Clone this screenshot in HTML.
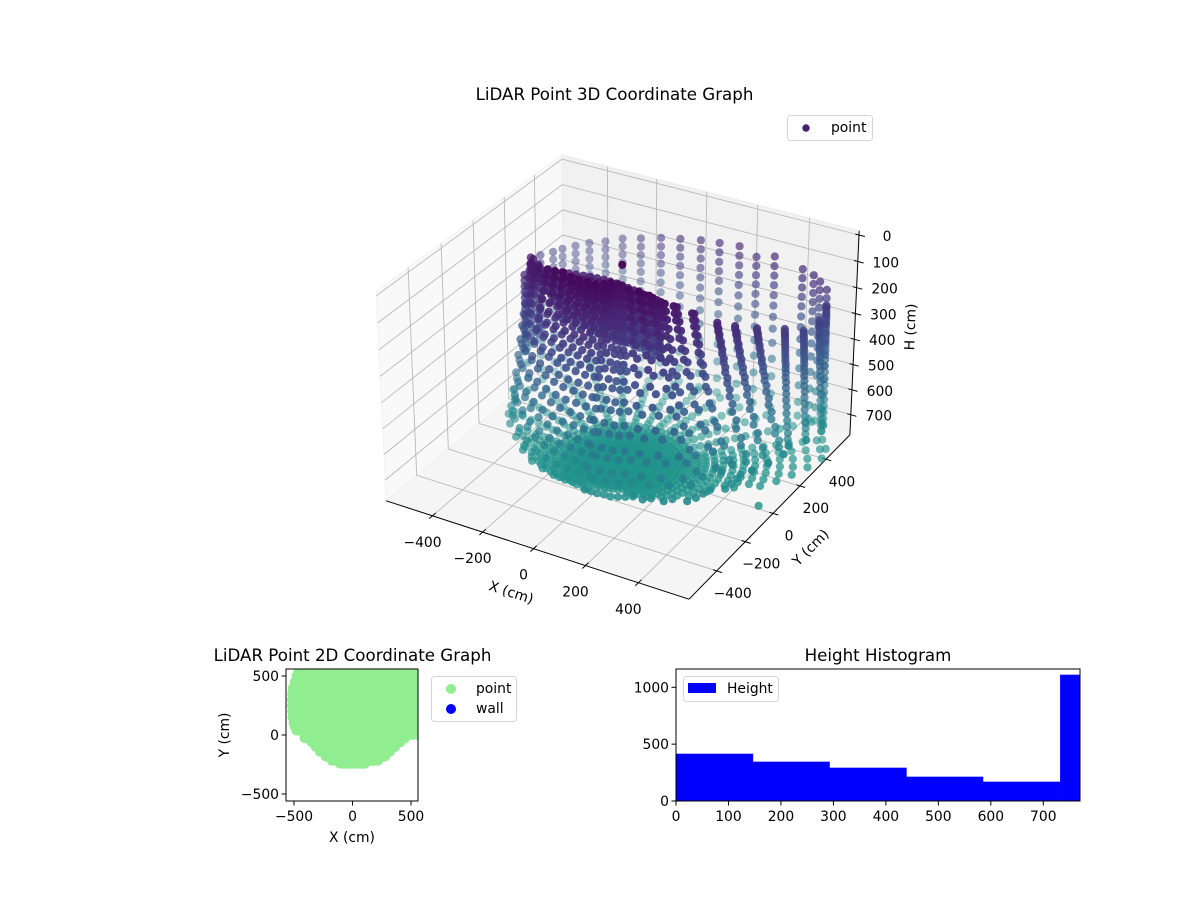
<!DOCTYPE html>
<html lang="en">
<head>
<meta charset="utf-8">
<title>LiDAR Point Graphs</title>
<style>
html,body{margin:0;padding:0;background:#fff}
svg{display:block}
text{font-family:"DejaVu Sans","Liberation Sans",sans-serif;fill:#000}
</style>
</head>
<body>
<svg id="figure" xmlns="http://www.w3.org/2000/svg" width="1200" height="900" viewBox="0 0 1200 900">
<defs><clipPath id="clip2d"><rect x="286" y="669" width="132" height="132"/></clipPath></defs>
<rect width="1200" height="900" fill="#fff"/>
<g id="axes3d"></g>
<text x="614.5" y="100" font-size="16.67" text-anchor="middle">LiDAR Point 3D Coordinate Graph</text>
<text transform="translate(511,593) rotate(18)" font-size="13.89" text-anchor="middle" dominant-baseline="middle">X (cm)</text>
<text transform="translate(811,548) rotate(-45)" font-size="13.89" text-anchor="middle" dominant-baseline="middle">Y (cm)</text>
<text transform="translate(911,327) rotate(-88)" font-size="13.89" text-anchor="middle" dominant-baseline="middle">H (cm)</text>
<g>
<rect x="787.5" y="115.5" width="85" height="25" rx="3" fill="#fff" fill-opacity="0.8" stroke="#d5d5d5"/>
<circle cx="806" cy="128" r="3.7" fill="#481f70"/>
<text x="831" y="132" font-size="13.89">point</text>
</g>

<g id="axes2d"></g>
<text x="352.5" y="661" font-size="16.67" text-anchor="middle">LiDAR Point 2D Coordinate Graph</text>
<text x="352" y="842" font-size="13.89" text-anchor="middle">X (cm)</text>
<text transform="translate(225,735) rotate(-90)" font-size="13.89" text-anchor="middle" dominant-baseline="middle">Y (cm)</text>
<g>
<rect x="431.5" y="676.5" width="85" height="45" rx="3" fill="#fff" stroke="#d5d5d5"/>
<circle cx="451" cy="689" r="5" fill="#90ee90"/>
<text x="476" y="693" font-size="13.89">point</text>
<circle cx="451" cy="709" r="5" fill="#0000ff"/>
<text x="476" y="713" font-size="13.89">wall</text>
</g>

<g id="axesHist"></g>
<text x="878" y="661" font-size="16.67" text-anchor="middle">Height Histogram</text>
<g>
<rect x="683.5" y="676.5" width="95" height="25" rx="3" fill="#fff" fill-opacity="0.8" stroke="#d5d5d5"/>
<rect x="688" y="683" width="28" height="10" fill="#0000ff"/>
<text x="727" y="693" font-size="13.89">Height</text>
</g>
</svg>
<script>
// ---- 3D axis ticks and limits ----
const xTicks3d = [-400, -200, 0, 200, 400];
const yTicks3d = [-400, -200, 0, 200, 400];
const hTicks3d = [0, 100, 200, 300, 400, 500, 600, 700];
const xLimit3d = [-588, 588];
const yLimit3d = [-588, 588];
const hLimit3d = [-16, 782];

// ---- Isolated points ----
const extraX = [0, 535];
const extraY = [0, -5];
const extraH = [0, 766];

// ---- Wall columns: fixed x,y with heights down the column ----
const wallX = [-530,-530,-525,-515,-500,-470,-430,-390,-325,-250,-168,-90,-8,66,145,212,283,392,435,460,487,-390,-360,-417];
const wallY = [150,240,330,400,440,480,510,555,565,565,565,565,565,565,565,565,565,565,565,565,565,50,50,50];
const wallHeight = [
[700,730,750],
[521,577,638,700,750],
[249,280,312,344,377,412,449,490,537,592,650,708,750],
[265,295,326,357,389,423,459,498,543,595,652,708,750],
[267,298,329,360,392,426,462,501,546,598,654,709,750],
[265,296,327,358,391,425,461,500,545,597,654,708,750],
[257,288,320,351,384,419,456,496,542,595,652,708,750],
[261,292,323,354,387,421,458,498,543,596,652,708,750],
[237,268,300,332,365,400,437,478,525,580,640,700,750],
[217,250,283,316,350,387,426,468,517,574,636,698,750],
[194,228,262,296,332,370,410,454,505,565,630,695,750],
[178,213,248,284,321,360,402,447,500,561,628,694,750],
[162,198,234,270,308,348,391,438,492,556,625,693,750],
[154,190,227,264,302,343,386,434,489,554,624,692,750],
[146,183,220,258,297,338,382,430,486,552,622,692,750],
[170,205,241,277,314,354,396,443,497,559,627,694,750],
[150,187,224,261,300,341,385,432,488,552,622,692,750],
[170,205,241,277,314,354,396,443,497,559,627,694,750],
[182,216,251,286,322,361,402,448,500,561,628,694,750],
[200,233,267,301,336,374,414,458,509,567,632,696,750],
[225,257,290,323,357,393,431,472,521,577,638,700,750],
[97,118,140,162,184,206,228,250,272,294,316,340,365,392,420],
[116,138,160,182,204,226,248,270,292,314,336,360,385],
[170,192,214,236,258,280,302,324,346,368,392,416,440,466]
];

// ---- Near-surface scan lines: azimuth (deg), radius and height per point ----
const scanAzimuth = [176,-178,-168,-158,-148,-138,-128,-118,-108,-98,-88,-78,-68,-58,-48,-38,-28,-18,-8,2,10,18,25,30,35,40,45];
const scanRadius = [
[365,369,373,378,383,389,396,403,411,421,432,445,456,467],
[323,327,331,337,342,348,354,361,370,380,392,404,416,427],
[264,269,273,279,285,292,299,307,316,327,340,354,366,379],
[227,232,236,242,248,255,262,270,280,291,304,318,331,344],
[197,202,206,212,218,225,232,240,249,261,274,287,300,313],
[174,178,183,189,194,201,208,215,224,236,248,261,274,286],
[154,158,163,168,174,180,187,195,204,215,227,240,252,264],
[136,140,145,150,155,162,168,176,185,195,207,220,232,244],
[119,123,128,133,139,145,152,159,168,179,191,204,216,228],
[99,104,108,114,120,127,134,142,151,163,176,189,202,215],
[80,88,95,105,114,126,137,150,166,185,205,228,249,270],
[44,53,62,74,86,99,113,129,148,171,196,224,250,275],
[25,35,46,59,72,87,103,121,142,168,197,228,256,285],
[20,31,42,56,70,86,103,122,144,171,202,235,265,295],
[100,109,118,130,141,155,169,185,204,227,252,279,305,330],
[145,154,163,174,186,199,213,228,246,269,294,321,345,370],
[167,177,186,199,211,225,240,257,276,301,327,357,383,410],
[192,197,203,210,218,227,237,249,264,283,307,337,370,405],
[215,220,226,233,241,250,260,272,287,307,333,365,400,440],
[262,266,270,275,281,288,296,305,317,332,352,378,408,440],
[336,340,344,350,355,361,367,375,384,395,410,428,448,470],
[385,389,393,398,403,409,415,422,431,442,456,472,490,510],
[454,457,460,464,468,473,478,484,491,500,511,525,540,556],
[548,549,550,551,552,553,555,556,558,560,563,566,570,574],
[618,619,620,621,622,623,624,625,627,629,631,634,637,640],
[683,684,685,686,687,688,690,691,693,695,698,700,703,705],
[725,725,726,726,726,727,727,728,728,729,729,730,730,730]
];
const scanHeight = [
[85,110,135,166,198,235,273,317,367,429,498,573,642,711],
[85,110,135,166,197,234,272,315,365,427,496,570,639,707],
[59,85,111,144,176,215,255,300,352,418,489,568,639,711],
[40,67,95,129,163,204,245,293,347,416,491,573,648,723],
[24,52,81,116,152,194,237,286,343,414,492,577,655,733],
[25,53,82,117,153,195,238,288,345,416,494,579,657,735],
[25,54,82,118,154,196,239,289,346,418,496,582,660,739],
[25,54,82,118,154,197,240,290,347,419,498,583,662,741],
[30,59,87,123,159,202,245,295,353,424,503,589,668,747],
[30,59,88,124,161,204,248,299,357,429,509,596,676,756],
[30,58,85,120,155,196,238,286,342,411,487,571,647,723],
[50,77,104,137,171,212,252,299,353,420,494,575,649,723],
[65,91,118,151,183,223,262,308,361,427,499,578,651,723],
[70,96,122,154,186,225,264,309,361,425,496,574,645,716],
[41,68,94,128,161,201,241,288,342,408,482,562,636,709],
[28,55,82,116,150,190,231,278,332,399,474,555,629,703],
[39,65,92,125,158,198,237,284,336,403,475,555,627,700],
[63,88,114,146,178,216,254,299,350,413,483,560,630,700],
[83,108,132,163,194,231,268,311,361,422,490,564,632,700],
[115,138,162,191,220,255,291,331,378,437,501,571,636,700],
[154,176,197,224,252,284,317,355,398,452,512,577,636,696],
[186,207,227,253,279,309,340,376,417,469,525,587,643,700],
[217,236,256,280,304,333,362,396,434,483,536,594,647,700],
[241,259,277,300,323,350,378,409,446,491,541,596,646,696],
[277,294,311,333,354,380,406,436,471,514,561,612,660,707],
[273,291,308,330,352,378,404,435,470,514,562,615,663,711],
[253,272,291,315,338,367,395,428,466,514,566,623,675,727]
];
// Second sweep of each scan (staggered beam), same radii as the first sweep
const sweepAzimuth = [179,-173,-163,-153,-143,-133,-123,-113,-103,-93,-83,-73,-63,-53,-43,-33,-23,-13,-3,6,10,18,25,30,35,40,45];
const sweepHeight = [
[97,122,150,182,216,254,295,342,398,463,535,607,676,711],
[97,122,150,181,215,253,293,340,396,461,533,604,673,707],
[72,98,127,160,195,235,277,326,385,453,528,603,675,711],
[53,81,112,146,183,224,269,320,381,453,532,610,685,723],
[38,66,98,134,173,215,261,314,378,453,534,616,694,733],
[39,67,99,135,174,216,263,316,380,455,536,618,696,735],
[39,68,100,136,175,217,264,317,382,457,539,621,699,739],
[39,68,100,136,175,218,265,318,383,458,540,622,701,741],
[44,73,105,141,180,223,270,324,388,463,546,628,707,747],
[44,73,106,142,182,226,273,328,393,469,552,636,716,756],
[44,71,102,137,175,217,262,314,376,449,529,609,685,723],
[63,90,120,154,191,232,275,326,386,457,534,612,686,723],
[78,104,134,167,203,242,285,334,394,463,538,614,687,723],
[83,109,138,170,205,244,286,335,393,460,535,609,680,716],
[54,81,111,144,181,221,264,315,375,445,522,599,672,709],
[41,68,99,133,170,210,254,305,365,436,514,592,666,703],
[52,78,108,141,178,217,260,310,369,439,515,591,663,700],
[75,101,130,162,197,235,276,324,381,448,521,595,665,700],
[95,120,147,178,212,249,289,336,391,456,527,598,666,700],
[126,150,176,205,237,273,311,354,407,469,536,603,668,700],
[165,186,210,238,268,300,336,376,425,482,544,606,666,696],
[196,217,240,266,294,324,358,396,443,497,556,615,671,700],
[226,246,268,292,318,347,379,415,458,509,565,620,673,700],
[250,268,288,311,336,364,393,427,468,516,568,621,671,696],
[285,302,322,343,367,393,421,453,492,537,586,636,683,707],
[282,299,319,341,365,391,419,452,492,538,588,639,687,711],
[262,281,303,326,352,381,411,447,490,540,594,649,701,727]
];

// ---- Dense dome under the lidar: columns by x,y and rows by height ----
const domeColumnX = [-320,-295,-270,-245,-220,-195,-170,-145,-120,-95,-70,-45,-20,5,30,55,80,105,130,145];
const domeColumnY = [0,5,10,15,20,25,30,35,38,40,40,38,35,30,25,20,15,10,5,0];
const domeRowHeight = [99,115,131,147,163,179,195,211,227,243,259,275,291,307];
const domeRowFirstColumn = [0,0,0,0,1,1,2,2,3,3,3,3,6,7];

// ---- Floor fan: rays by azimuth, rings by radius ----
const floorAzimuth = [-180,-175,-170,-165,-160,-155,-150,-145,-140,-135,-130,-125,-120,-115,-110,-105,-100,-95,-90,-85,-80,-75,-70,-65,-60,-55,-50,-45,-40,-35,-30,-25,-20,-15,-10,-5,0,5,10,15,20,25,30,35,40,45,50,55,60,65,70,75,80,85,90,95,100,105,110,115,120,125,130,135,140,145,150,155,160,165,170,175];
const floorRayReach = [400,385,370,350,330,310,290,275,265,255,250,240,235,220,210,200,190,180,175,175,175,175,180,185,190,205,220,230,240,250,265,285,310,325,340,360,375,440,510,560,600,650,690,710,710,250,710,250,635,250,565,250,565,250,565,250,565,250,565,250,635,250,710,250,635,250,565,250,540,250,500,250];
const floorRingRadius = [12,25,40,55,70,85,100,118,136,155,175,195,215,240,265,290,320,350,385,420,460,500,545,590,640,690,710];
const floorRingHeight = [764,764,764,763,763,763,762,762,762,761,761,760,760,759,758,757,756,755,754,753,752,751,750,749,748,747,746];

// ---- 2D footprint rows: y with left and right edges ----
const footprintY = [565,550,500,450,400,350,300,250,200,150,100,70,40,5,-25,-60,-100,-140,-180,-215,-240];
const footprintLeft = [-495,-502,-519,-533,-550,-556,-558,-558,-556,-553,-544,-532,-520,-440,-450,-390,-355,-320,-270,-218,-150];
const footprintRight = [600,600,600,600,600,600,600,600,600,600,600,600,600,600,490,450,405,362,320,260,150];
const xTicks2d = [-500, 0, 500];
const yTicks2d = [-500, 0, 500];

// ---- Histogram ----
const histEdges = [0,146.5,292.5,439,585,732,770];
const histCounts = [416,346,293,214,170,1111];
const histXTicks = [0,100,200,300,400,500,600,700];
const histYTicks = [0,500,1000];

// ---- Helpers ----
const NS = 'http://www.w3.org/2000/svg';
function mk(parent, tag, attrs, text) {
  const e = document.createElementNS(NS, tag);
  for (const k in attrs) e.setAttribute(k, attrs[k]);
  if (text !== undefined) e.textContent = text;
  parent.appendChild(e);
  return e;
}
function label(v) { return String(v).replace('-', '\u2212'); }
function named(e, name) {
  
  
  return e;
}

// ---- 3D projection (axis function) ----
const VIEW = {scaleXY: 0.595 / 588, scaleH: 0.41 / 399, hCenter: 383, cx: 622.3, cy: 366, sx: 2910, sy: 2910, dist: 10};
function project(x, y, h) {
  const nx = x * VIEW.scaleXY, ny = y * VIEW.scaleXY, nz = (VIEW.hCenter - h) * VIEW.scaleH;
  const U = 0.866 * nx + 0.5 * ny;
  const V = -0.25 * nx + 0.433 * ny + 0.866 * nz;
  const W = 0.433 * nx - 0.75 * ny + 0.5 * nz;
  const den = VIEW.dist - W;
  return {px: VIEW.cx + VIEW.sx * U / den, py: VIEW.cy - VIEW.sy * V / den, depth: W};
}
const viridisStops = [[68,1,84],[72,36,117],[65,68,135],[53,95,141],[42,120,142],[33,145,140],[34,168,132],[68,191,112],[122,209,81],[189,223,38],[253,231,37]];
function viridis(t) {
  t = Math.max(0, Math.min(0.9999, t)) * 10;
  const i = Math.floor(t), f = t - i, a = viridisStops[i], b = viridisStops[i + 1];
  return [0,1,2].map(k => Math.round(a[k] + (b[k] - a[k]) * f));
}
function colourForHeight(h) { return viridis(h / 1480); }

// ---- Draw 3D axes ----
(function draw3d() {
  const g = document.getElementById('axes3d');
  const [x0, x1] = xLimit3d, [y0, y1] = yLimit3d, [hTop, hBot] = hLimit3d;
  const pts = list => list.map(p => { const q = project(p[0], p[1], p[2]); return q.px.toFixed(1) + ',' + q.py.toFixed(1); }).join(' ');
  const leftWall = mk(g, 'polygon', {points: pts([[x0,y0,hBot],[x0,y1,hBot],[x0,y1,hTop],[x0,y0,hTop]]), fill: '#f9f9f9', stroke: '#f1f1f1', 'stroke-width': 1});
  named(leftWall, 'left-wall-pane');
  const backWall = mk(g, 'polygon', {points: pts([[x0,y1,hBot],[x1,y1,hBot],[x1,y1,hTop],[x0,y1,hTop]]), fill: '#f1f1f1', stroke: '#ececec', 'stroke-width': 1});
  named(backWall, 'back-wall-pane');
  const floorPane = mk(g, 'polygon', {points: pts([[x0,y0,hBot],[x1,y0,hBot],[x1,y1,hBot],[x0,y1,hBot]]), fill: '#f5f5f5', stroke: '#f0f0f0', 'stroke-width': 1});
  named(floorPane, 'floor-pane');

  const gridStyle = {fill: 'none', stroke: '#b9b9b9', 'stroke-width': 0.9};
  xTicks3d.forEach(v => {
    const line = mk(g, 'polyline', Object.assign({points: pts([[v,y0,hBot],[v,y1,hBot],[v,y1,hTop]])}, gridStyle));
    named(line, 'x-gridline');
  });
  yTicks3d.forEach(v => {
    const line = mk(g, 'polyline', Object.assign({points: pts([[x1,v,hBot],[x0,v,hBot],[x0,v,hTop]])}, gridStyle));
    named(line, 'y-gridline');
  });
  hTicks3d.forEach(v => {
    const line = mk(g, 'polyline', Object.assign({points: pts([[x1,y1,v],[x0,y1,v],[x0,y0,v]])}, gridStyle));
    named(line, 'h-gridline');
  });

  const axisStyle = {fill: 'none', stroke: '#000', 'stroke-width': 1};
  const xAxisLine = mk(g, 'polyline', Object.assign({points: pts([[x0,y0,hBot],[x1,y0,hBot]])}, axisStyle));
  named(xAxisLine, 'x-axis-line');
  const yAxisLine = mk(g, 'polyline', Object.assign({points: pts([[x1,y0,hBot],[x1,y1,hBot]])}, axisStyle));
  named(yAxisLine, 'y-axis-line');
  const hAxisLine = mk(g, 'polyline', Object.assign({points: pts([[x1,y1,hBot],[x1,y1,hTop]])}, axisStyle));
  named(hAxisLine, 'h-axis-line');

  const tickLabel = (px, py, v, name) => {
    const t = mk(g, 'text', {x: px.toFixed(1), y: py.toFixed(1), 'font-size': 13.89, 'text-anchor': 'middle', 'dominant-baseline': 'middle'}, label(v));
    named(t, name);
  };
  xTicks3d.forEach(v => {
    const tick = mk(g, 'polyline', Object.assign({points: pts([[v,y0-20,hBot],[v,y0+20,hBot]])}, axisStyle));
    named(tick, 'x-tick');
    const p = project(v, y0, hBot);
    tickLabel(p.px - 10, p.py + 27, v, 'x-tick-label');
  });
  yTicks3d.forEach(v => {
    const tick = mk(g, 'polyline', Object.assign({points: pts([[x1-14,v,hBot],[x1+20,v,hBot]])}, axisStyle));
    named(tick, 'y-tick');
    const p = project(x1, v, hBot);
    tickLabel(p.px + 16, p.py + 23, v, 'y-tick-label');
  });
  hTicks3d.forEach(v => {
    const tick = mk(g, 'polyline', Object.assign({points: pts([[x1-14,y1,v],[x1+22,y1,v]])}, axisStyle));
    named(tick, 'h-tick');
    const p = project(x1, y1, v);
    tickLabel(p.px + 28, p.py + 2, v, 'h-tick-label');
  });

  // collect marks from the data arrays
  const marks = [];
  extraX.forEach((x, i) => marks.push([x, extraY[i], extraH[i]]));
  wallX.forEach((x, i) => wallHeight[i].forEach(h => marks.push([x, wallY[i], h])));
  scanAzimuth.forEach((az, i) => {
    const a = az * Math.PI / 180, b = sweepAzimuth[i] * Math.PI / 180;
    scanRadius[i].forEach((r, j) => {
      marks.push([r * Math.cos(a), r * Math.sin(a), scanHeight[i][j]]);
      marks.push([r * Math.cos(b), r * Math.sin(b), sweepHeight[i][j]]);
    });
  });
  domeRowHeight.forEach((h, i) => {
    domeColumnX.forEach((x, j) => {
      if (j >= domeRowFirstColumn[i]) marks.push([x, domeColumnY[j], h]);
    });
  });
  floorAzimuth.forEach((az, i) => {
    const a = az * Math.PI / 180;
    floorRingRadius.forEach((r, j) => {
      if (r <= floorRayReach[i]) marks.push([r * Math.cos(a), r * Math.sin(a), floorRingHeight[j]]);
    });
  });
  const projected = marks.map(m => { const p = project(m[0], m[1], m[2]); p.h = m[2]; return p; });
  const depths = projected.map(p => p.depth);
  const dMin = Math.min.apply(null, depths), dMax = Math.max.apply(null, depths);
  projected.sort((a, b) => a.depth - b.depth);
  const layer = mk(g, 'g', {});
  named(layer, 'point-cloud');
  projected.forEach(p => {
    const alpha = 0.3 + 0.7 * (p.depth - dMin) / (dMax - dMin);
    const c = colourForHeight(p.h);
    const dot = mk(layer, 'circle', {cx: p.px.toFixed(1), cy: p.py.toFixed(1), r: 4.1, fill: 'rgba(' + c.join(',') + ',' + alpha.toFixed(2) + ')'});
    
    
  });
})();

// ---- Draw 2D scatter ----
(function draw2d() {
  const g = document.getElementById('axes2d');
  const X = v => 352.5 + v * 0.117;
  const Y = v => 735 - v * 0.118;
  const clip = mk(g, 'g', {'clip-path': 'url(#clip2d)'});
  named(clip, 'footprint-points');
  footprintY.forEach((y, i) => {
    const row = mk(clip, 'line', {x1: X(footprintLeft[i]) + 5, x2: X(footprintRight[i]) - 5, y1: Y(y), y2: Y(y), stroke: '#90ee90', 'stroke-width': 10.5, 'stroke-linecap': 'round'});
    named(row, 'footprint-row');
  });
  const frame = mk(g, 'rect', {x: 286, y: 669, width: 132, height: 132, fill: 'none', stroke: '#000', 'stroke-width': 1});
  named(frame, '2d-plot-frame');
  xTicks2d.forEach(v => {
    const tick = mk(g, 'line', {x1: X(v), x2: X(v), y1: 801, y2: 805.5, stroke: '#000', 'stroke-width': 1});
    named(tick, 'x-tick-2d');
    const t = mk(g, 'text', {x: X(v), y: 821, 'font-size': 13.89, 'text-anchor': 'middle'}, label(v));
    named(t, 'x-tick-label-2d');
  });
  yTicks2d.forEach(v => {
    const tick = mk(g, 'line', {x1: 281.5, x2: 286, y1: Y(v), y2: Y(v), stroke: '#000', 'stroke-width': 1});
    named(tick, 'y-tick-2d');
    const t = mk(g, 'text', {x: 279, y: Y(v) + 5, 'font-size': 13.89, 'text-anchor': 'end'}, label(v));
    named(t, 'y-tick-label-2d');
  });
})();

// ---- Draw histogram ----
(function drawHist() {
  const g = document.getElementById('axesHist');
  const X = v => 676 + v * 0.5247;
  const Y = v => 801 - v * 0.1137;
  histCounts.forEach((n, i) => {
    const bar = mk(g, 'rect', {x: X(histEdges[i]), y: Y(n), width: X(histEdges[i + 1]) - X(histEdges[i]) + 0.3, height: 801 - Y(n), fill: '#0000ff'});
    named(bar, 'histogram-bar');
  });
  const frame = mk(g, 'rect', {x: 676, y: 669, width: 404, height: 132, fill: 'none', stroke: '#000', 'stroke-width': 1});
  named(frame, 'histogram-frame');
  histXTicks.forEach(v => {
    const tick = mk(g, 'line', {x1: X(v), x2: X(v), y1: 801, y2: 805.5, stroke: '#000', 'stroke-width': 1});
    named(tick, 'histogram-x-tick');
    const t = mk(g, 'text', {x: X(v), y: 821, 'font-size': 13.89, 'text-anchor': 'middle'}, label(v));
    named(t, 'histogram-x-tick-label');
  });
  histYTicks.forEach(v => {
    const tick = mk(g, 'line', {x1: 671.5, x2: 676, y1: Y(v), y2: Y(v), stroke: '#000', 'stroke-width': 1});
    named(tick, 'histogram-y-tick');
    const t = mk(g, 'text', {x: 669, y: Y(v) + 5, 'font-size': 13.89, 'text-anchor': 'end'}, label(v));
    named(t, 'histogram-y-tick-label');
  });
})();
</script>
</body>
</html>
